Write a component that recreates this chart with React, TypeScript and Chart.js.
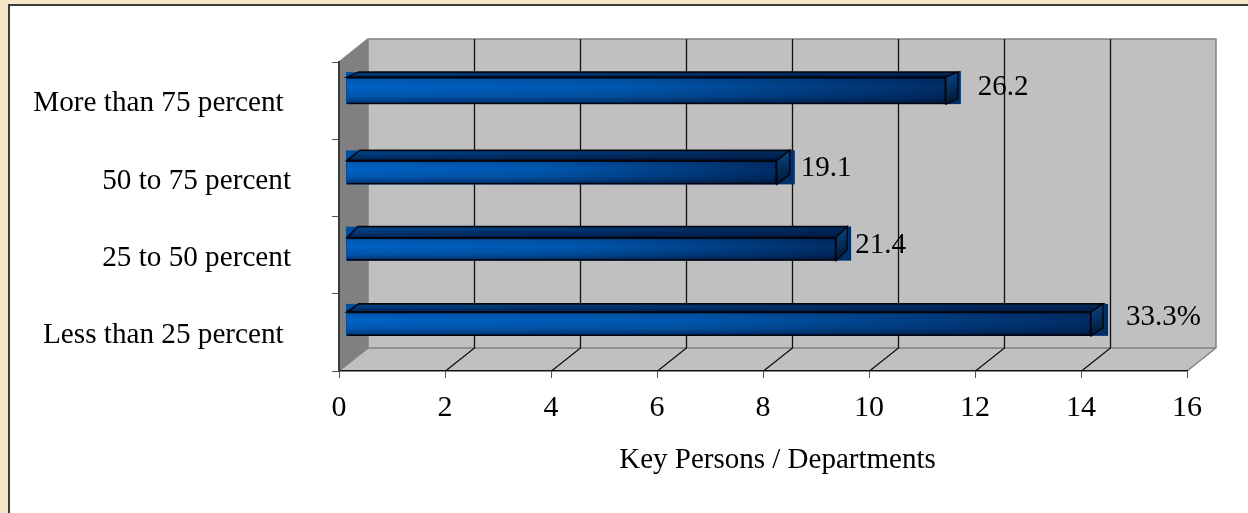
import React, { useEffect, useRef } from "react";
import { Chart, registerables } from "chart.js";

Chart.register(...registerables);

// Data
const categories = ["More than 75 percent ", "50 to 75 percent", "25 to 50 percent", "Less than 25 percent "];
const barValues = [11.45, 8.26, 9.38, 14.19];
const valueLabels = ["26.2", "19.1", "21.4", "33.3%"];
const axisTitle = "    Key Persons / Departments";

// Style of the pseudo-3D drawing
const FONT = "'Liberation Serif', 'Times New Roman', serif";
const WALL_DX = 29;
const WALL_DY = 23;
const barBase = 0.15;
const barShift = [-10, -5.5, -6, -8.5];
const barHeight = [27, 24, 23, 24];
const depthY = [5, 10, 11, 8];
const depthX = [12, 13, 11, 12];
const capWidth = [15, 18, 15, 17];
const labelGap = [17, 6, 4, 18];
const labelRise = [3, 4, 4, 6];

function drawPoly(ctx: CanvasRenderingContext2D, pts: number[][], fill?: any, stroke?: string, lw = 1) {
  ctx.beginPath();
  pts.forEach((p, i) => (i ? ctx.lineTo(p[0], p[1]) : ctx.moveTo(p[0], p[1])));
  ctx.closePath();
  if (fill) {
    ctx.fillStyle = fill;
    ctx.fill();
  }
  if (stroke) {
    ctx.strokeStyle = stroke;
    ctx.lineWidth = lw;
    ctx.stroke();
  }
}

const box3d = {
  id: "box3d",
  afterDatasetsUpdate(chart: any) {
    const meta = chart.getDatasetMeta(0);
    meta.data.forEach((el: any, i: number) => {
      el.y += barShift[i];
      el.height = barHeight[i];
    });
  },
  beforeDraw(chart: any) {
    const { ctx, chartArea: a, scales } = chart;
    const { left, right, top, bottom } = a;
    ctx.save();
    // left wall
    drawPoly(ctx, [[left, top], [left + WALL_DX, top - WALL_DY], [left + WALL_DX, bottom - WALL_DY], [left, bottom]], "#808080");
    // back wall
    drawPoly(ctx, [[left + WALL_DX, top - WALL_DY], [right + WALL_DX, top - WALL_DY], [right + WALL_DX, bottom - WALL_DY], [left + WALL_DX, bottom - WALL_DY]], "#c0c0c0");
    // floor
    drawPoly(ctx, [[left, bottom], [left + WALL_DX, bottom - WALL_DY], [right + WALL_DX, bottom - WALL_DY], [right, bottom]], "#c0c0c0");
    // edges
    ctx.strokeStyle = "#808080";
    ctx.lineWidth = 1.5;
    ctx.beginPath();
    ctx.moveTo(left, top);
    ctx.lineTo(left + WALL_DX, top - WALL_DY);
    ctx.lineTo(right + WALL_DX, top - WALL_DY);
    ctx.lineTo(right + WALL_DX, bottom - WALL_DY);
    ctx.lineTo(right, bottom);
    ctx.moveTo(right + WALL_DX, bottom - WALL_DY);
    ctx.lineTo(left + WALL_DX, bottom - WALL_DY);
    ctx.lineTo(left, bottom);
    ctx.moveTo(left + WALL_DX, bottom - WALL_DY);
    ctx.lineTo(left + WALL_DX, top - WALL_DY);
    ctx.stroke();
    // grid lines on back wall and floor
    ctx.strokeStyle = "#101010";
    ctx.lineWidth = 1.3;
    scales.x.ticks.forEach((t: any) => {
      if (t.value === scales.x.min || t.value === scales.x.max) return;
      const x = Math.round(scales.x.getPixelForValue(t.value)) + 0.5;
      ctx.beginPath();
      ctx.moveTo(x + WALL_DX, top - WALL_DY);
      ctx.lineTo(x + WALL_DX, bottom - WALL_DY);
      ctx.lineTo(x, bottom);
      ctx.stroke();
    });
    ctx.restore();
  },
  beforeDatasetsDraw(chart: any) {
    const { ctx } = chart;
    const meta = chart.getDatasetMeta(0);
    ctx.save();
    meta.data.forEach((el: any, i: number) => {
      const t = el.y - el.height / 2;
      const b = el.y + el.height / 2;
      const xe = el.x + capWidth[i];
      const g = ctx.createLinearGradient(el.base, 0, xe, 0);
      g.addColorStop(0, "#00509f");
      g.addColorStop(0.5, "#00427f");
      g.addColorStop(1, "#002f66");
      ctx.fillStyle = g;
      ctx.fillRect(el.base - 1, t - depthY[i], xe - el.base + 1, b - t + depthY[i]);
    });
    ctx.restore();
  },
  afterDatasetsDraw(chart: any) {
    const { ctx } = chart;
    const meta = chart.getDatasetMeta(0);
    ctx.save();
    meta.data.forEach((el: any, i: number) => {
      const t = el.y - el.height / 2;
      const b = el.y + el.height / 2;
      const l = el.base;
      const r = el.x;
      const dx = depthX[i];
      const dy = depthY[i];
      // vertical shading over the front face
      const v = ctx.createLinearGradient(0, t, 0, b);
      v.addColorStop(0, "rgba(0,0,20,0.15)");
      v.addColorStop(0.35, "rgba(0,0,20,0)");
      v.addColorStop(0.7, "rgba(0,0,20,0.12)");
      v.addColorStop(1, "rgba(0,0,20,0.5)");
      ctx.fillStyle = v;
      ctx.fillRect(l, t, r - l, b - t);
      // top face
      const tg = ctx.createLinearGradient(0, t - dy, 0, t);
      tg.addColorStop(0, "#004a90");
      tg.addColorStop(1, "#002458");
      drawPoly(ctx, [[l, t], [l + dx, t - dy], [r + dx, t - dy], [r, t]], tg, "#05060f", 1.6);
      const td = ctx.createLinearGradient(l, 0, r, 0);
      td.addColorStop(0, "rgba(0,10,40,0)");
      td.addColorStop(1, "rgba(0,10,40,0.45)");
      drawPoly(ctx, [[l, t], [l + dx, t - dy], [r + dx, t - dy], [r, t]], td);
      // end face
      const eg = ctx.createLinearGradient(r, t - dy, r + dx, b);
      eg.addColorStop(0, "#0a4a8c");
      eg.addColorStop(1, "#001228");
      drawPoly(ctx, [[r, t], [r + dx, t - dy], [r + dx, b - dy], [r, b]], eg, "#05060f", 1.4);
      // value label
      ctx.fillStyle = "#000";
      ctx.font = "29px " + FONT;
      ctx.textAlign = "left";
      ctx.textBaseline = "middle";
      ctx.fillText(valueLabels[i], r + capWidth[i] + labelGap[i], el.y - labelRise[i]);
    });
    ctx.restore();
  },
};

export default function App() {
  const ref = useRef<HTMLCanvasElement>(null);
  useEffect(() => {
    const chart = new Chart(ref.current as HTMLCanvasElement, {
      type: "bar",
      plugins: [box3d],
      data: {
        labels: categories,
        datasets: [
          {
            data: barValues,
            base: barBase,
            barPercentage: 0.4,
            categoryPercentage: 1,
            borderColor: "#05060f",
            borderWidth: 1.6,
            backgroundColor: (c: any) => {
              const sx = c.chart.scales.x;
              if (!sx) return "#0060c0";
              const x0 = sx.getPixelForValue(barBase);
              const x1 = sx.getPixelForValue(barValues[c.dataIndex]);
              if (!Number.isFinite(x0) || !Number.isFinite(x1)) return "#0060c0";
              const g = c.chart.ctx.createLinearGradient(x0, 0, x1, 0);
              g.addColorStop(0, "#0062c4");
              g.addColorStop(0.45, "#0058b0");
              g.addColorStop(1, "#002d66");
              return g;
            },
          },
        ],
      },
      options: {
        indexAxis: "y",
        animation: false,
        responsive: false,
        devicePixelRatio: 1,
        layout: { padding: { left: 0, top: 62, right: 61, bottom: 0 } },
        plugins: { legend: { display: false }, title: { display: false }, tooltip: { enabled: false } },
        scales: {
          x: {
            min: 0,
            max: 16,
            afterFit: (s: any) => { s.height = 142; },
            ticks: { stepSize: 2, color: "#000", maxRotation: 0, padding: 12, font: { family: FONT, size: 30 } },
            grid: { drawOnChartArea: false, color: "#555", tickLength: 7, lineWidth: 1 },
            border: { color: "#111", width: 1.5 },
            title: {
              display: true,
              text: axisTitle,
              color: "#000",
              padding: { top: 0, bottom: 35 },
              font: { family: FONT, size: 29 },
            },
          },
          y: {
            afterFit: (s: any) => { s.width = 339; },
            ticks: { color: "#000", padding: 41, labelOffset: 3, font: { family: FONT, size: 29.2 } },
            grid: { drawOnChartArea: false, color: "#555", tickLength: 7, lineWidth: 1 },
            border: { color: "#3c3c3c", width: 2 },
          },
        },
      },
    } as any);
    return () => chart.destroy();
  }, []);
  return (
    <div style={{ position: "fixed", inset: 0, background: "#f5e6c8", overflow: "hidden" }}>
      <div
        style={{
          position: "absolute",
          left: 8,
          top: 4,
          right: 0,
          bottom: 0,
          background: "#fff",
          borderLeft: "2px solid #3a3a3a",
          borderTop: "2px solid #3a3a3a",
        }}
      />
      <canvas ref={ref} width={1248} height={513} style={{ position: "absolute", left: 0, top: 0, display: "block" }} />
    </div>
  );
}
